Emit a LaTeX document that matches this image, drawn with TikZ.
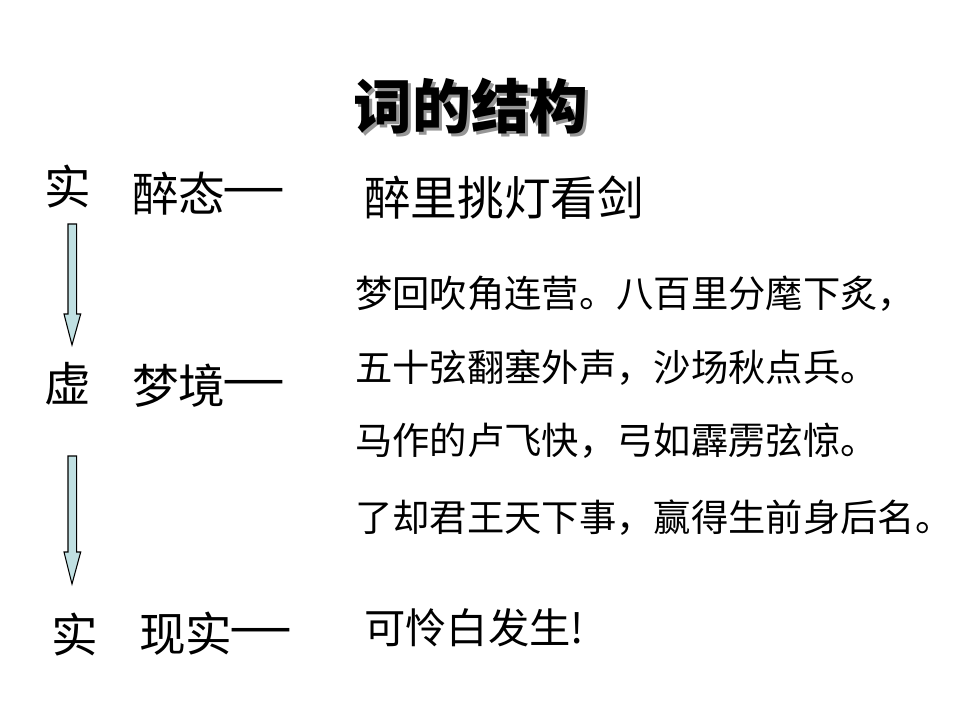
\documentclass[tikz,border=0pt]{standalone}
\usepackage{fontspec}
\newfontfamily\cjk{Noto Sans CJK SC}
\newfontfamily\serifdash{Liberation Serif}
\newcommand{\longdash}{\raisebox{0.11em}{\serifdash\scalebox{1.22}[1.5]{—}}}
\begin{document}
\begin{tikzpicture}[x=0.75pt,y=-0.75pt,
  txt/.style={inner sep=0pt,anchor=west,text=black,font=\cjk\fontsize{28}{31}\selectfont},
  side/.style={inner sep=0pt,anchor=west,text=black,font=\cjk\fontsize{35}{38}\selectfont},
  blockarrow/.style={draw=black,fill=arrowfill,line width=0.8pt,line join=miter}]
\definecolor{arrowfill}{RGB}{192,224,226}
\definecolor{shadowgray}{RGB}{150,150,150}
\useasboundingbox (0,0) rectangle (960,720);
% title with shadow
\node[inner sep=0pt,text=black,font=\cjk\bfseries\fontsize{44}{47}\selectfont] (title) at (471,108)
  {\makebox[0pt][l]{\hspace{2.25pt}\raisebox{-2.25pt}{\textcolor{shadowgray}{词的结构}}}词的结构};
% left labels
\node[side] (s1) at (44,187) {实};
\node[side] (s2) at (44,384) {虚};
\node[side] (s3) at (51,635) {实};
\node[side] (l1) at (132,194) {醉态\longdash};
\node[side] (l2) at (132,386) {梦境\longdash};
\node[side] (l3) at (139,634) {现实\longdash};
% right texts
\node[side] (r1) at (364,198) {醉里挑灯看剑};
\node[txt] (b1) at (355,294) {梦回吹角连营。八百里分麾下炙，};
\node[txt] (b2) at (355,368) {五十弦翻塞外声，沙场秋点兵。};
\node[txt] (b3) at (355,441) {马作的卢飞快，弓如霹雳弦惊。};
\node[txt] (b4) at (355,518) {了却君王天下事，赢得生前身后名。};
\node[inner sep=0pt,anchor=west,font=\cjk\fontsize{31}{34}\selectfont] (r3) at (364,628) {可怜白发生!};
% block arrows
\draw[blockarrow] (68,224) -- (76.7,224) -- (76.7,314) -- (80.7,314) -- (72,345) -- (64,314) -- (68,314) -- cycle;
\draw[blockarrow] (68,456) -- (76.7,456) -- (76.7,552) -- (80.7,552) -- (72,584) -- (64,552) -- (68,552) -- cycle;
\end{tikzpicture}
\end{document}
